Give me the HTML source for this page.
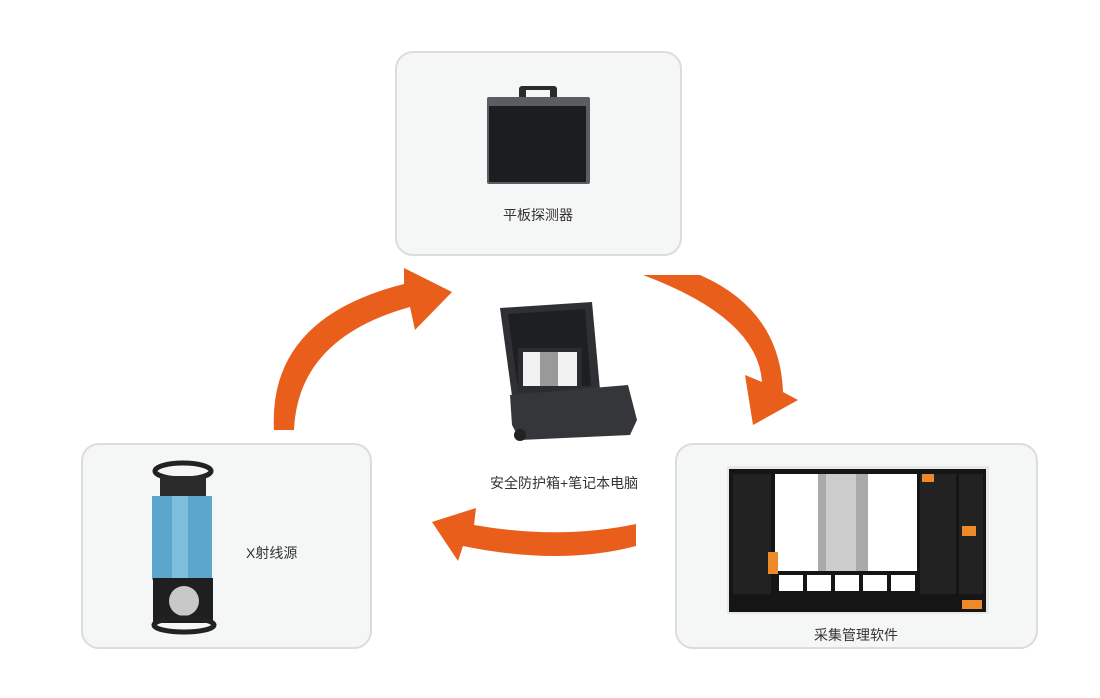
<!DOCTYPE html>
<html><head><meta charset="utf-8"><style>
body{margin:0;width:1100px;height:698px;background:#fff;position:relative;overflow:hidden;font-family:"Liberation Sans","Noto Sans CJK SC",sans-serif;}
.box{position:absolute;background:#f5f6f6;border:2px solid #dcdcdc;border-radius:18px;box-sizing:border-box;}
.lbl{position:absolute;font-size:14px;color:#333;white-space:nowrap;}
</style></head><body>
<div class="box" style="left:395px;top:51px;width:287px;height:205px"></div>
<div class="box" style="left:81px;top:443px;width:291px;height:206px"></div>
<div class="box" style="left:675px;top:443px;width:363px;height:206px"></div>

<svg width="1100" height="698" style="position:absolute;left:0;top:0">
<!-- detector -->
<rect x="519" y="86" width="38" height="14" rx="3" fill="#2a2b2d"/>
<rect x="526" y="90" width="24" height="8" fill="#f5f6f6"/>
<rect x="487" y="97" width="103" height="87" rx="2" fill="#5a5d62"/>
<rect x="489" y="106" width="97" height="76" fill="#1c1d1f"/>
<!-- x-ray -->
<ellipse cx="183" cy="471" rx="28" ry="8" fill="none" stroke="#222" stroke-width="5"/>
<rect x="160" y="476" width="46" height="22" fill="#2a2a2a"/>
<rect x="152" y="496" width="60" height="84" fill="#5aa6cc"/>
<rect x="172" y="496" width="16" height="84" fill="#7dbfdc"/>
<rect x="153" y="578" width="60" height="45" fill="#1f1f1f"/>
<circle cx="184" cy="601" r="15" fill="#c8c8c8"/>
<ellipse cx="184" cy="625" rx="30" ry="7" fill="none" stroke="#222" stroke-width="5"/>
<!-- case -->
<polygon points="500,308 592,302 600,390 512,396" fill="#2e3033"/>
<polygon points="508,314 585,309 591,386 518,390" fill="#1e1f21"/>
<rect x="518" y="348" width="64" height="44" fill="#2b2c2e"/>
<rect x="523" y="352" width="54" height="34" fill="#f2f2f2"/>
<rect x="540" y="352" width="18" height="34" fill="#999"/>
<polygon points="510,395 628,385 637,420 630,435 520,440 512,425" fill="#34363a"/>
<circle cx="520" cy="435" r="6" fill="#222"/>
<!-- software -->
<rect x="727" y="466" width="262" height="148" fill="#e8e8e8"/>
<rect x="729" y="469" width="257" height="143" fill="#151515"/>
<rect x="733" y="474" width="38" height="120" fill="#222"/>
<rect x="920" y="474" width="36" height="120" fill="#222"/>
<rect x="959" y="474" width="24" height="120" fill="#222"/>
<rect x="775" y="474" width="142" height="97" fill="#fff"/>
<rect x="818" y="474" width="50" height="97" fill="#aaa"/>
<rect x="826" y="474" width="30" height="97" fill="#ccc"/>
<g fill="#fff"><rect x="779" y="575" width="24" height="16"/><rect x="807" y="575" width="24" height="16"/><rect x="835" y="575" width="24" height="16"/><rect x="863" y="575" width="24" height="16"/><rect x="891" y="575" width="24" height="16"/></g>
<rect x="768" y="552" width="10" height="22" fill="#ec8a2a"/>
<rect x="962" y="526" width="14" height="10" fill="#ec8a2a"/>
<rect x="962" y="600" width="20" height="9" fill="#ec8a2a"/>
<rect x="922" y="474" width="12" height="8" fill="#ec8a2a"/>
<!-- arrows -->
<g fill="#e95e1b">
<path d="M274,430 Q268,318 404,284 L404,268 L452,292 L415,330 L410,307 Q298,338 294,430 Z"/>
<path d="M643,275 L700,275 Q780,310 783,392 L798,400 L753,425 L745,375 L762,382 Q758,318 643,275 Z"/>
<path d="M636,524 Q560,540 474,525 L476,508 L432,522 L458,561 L463,546 Q560,566 636,546 Z"/>
</g>
</svg>

<div class="lbl" style="left:503px;top:205px">平板探测器</div>
<div class="lbl" style="left:246px;top:543px">X射线源</div>
<div class="lbl" style="left:490px;top:473px">安全防护箱+笔记本电脑</div>
<div class="lbl" style="left:814px;top:625px">采集管理软件</div>
</body></html>
